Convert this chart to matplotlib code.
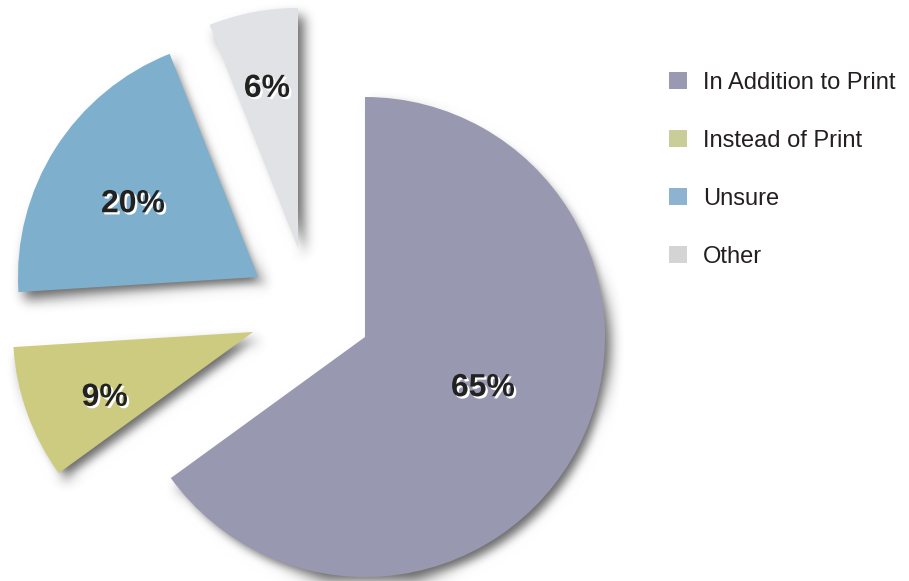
import numpy as np
import matplotlib
matplotlib.use("Agg")
import matplotlib.pyplot as plt
from matplotlib.patches import Wedge, Patch
import matplotlib.patheffects as pe

# Survey answers
categories = ["In Addition to Print", "Instead of Print", "Unsure", "Other"]
shares = [65, 9, 20, 6]

slice_colors = ["#9898B0", "#CCCB80", "#7EB0CE", "#E1E2E5"]
legend_colors = ["#9999B1", "#C9CD98", "#8DB3D0", "#D4D4D4"]
text_color = "#231F20"

W, H = 909, 581
PIE_CENTER = (365, H - 337)
RADIUS = 240
# how far each slice is pulled out from the pie centre (pixels)
slice_shift = [(0, 0), (-112, 5), (-107, 60), (-67, 89)]
# percentage label placement: fraction of radius and angular nudge (deg)
label_frac = [0.53, 0.67, 0.61, 0.69]
label_nudge = [5, 3, 1, 0]


class GaussianBlur:
    """Agg filter that softens whatever it is attached to."""

    def __init__(self, sigma):
        self.sigma = sigma

    def __call__(self, im, dpi):
        s = self.sigma * dpi / 100.0
        pad = int(np.ceil(3 * s))
        img = np.pad(im, ((pad, pad), (pad, pad), (0, 0)))
        x = np.arange(-pad, pad + 1)
        k = np.exp(-0.5 * (x / s) ** 2)
        k /= k.sum()
        img = np.apply_along_axis(lambda v: np.convolve(v, k, mode="same"), 0, img)
        img = np.apply_along_axis(lambda v: np.convolve(v, k, mode="same"), 1, img)
        return img, -pad, -pad


fig = plt.figure(figsize=(W / 100, H / 100), dpi=100)
ax = fig.add_axes([0, 0, 1, 1])

wedges, _ = ax.pie(shares, colors=slice_colors, startangle=90, counterclock=False,
                   radius=RADIUS, center=PIE_CENTER,
                   wedgeprops=dict(linewidth=0), frame=False)

for w, (dx, dy), frac, nudge, share in zip(wedges, slice_shift, label_frac,
                                          label_nudge, shares):
    cx, cy = PIE_CENTER[0] + dx, PIE_CENTER[1] + dy
    w.set_center((cx, cy))
    w.set_zorder(2)

    # soft drop shadow below and to the right of the slice
    sh = Wedge((cx + 6, cy - 8), w.r, w.theta1, w.theta2,
               facecolor="black", edgecolor="none", alpha=0.6, zorder=1)
    sh.set_agg_filter(GaussianBlur(6))
    sh.set_rasterized(True)
    ax.add_patch(sh)

    mid = np.deg2rad((w.theta1 + w.theta2) / 2 + nudge)
    ax.text(cx + frac * w.r * np.cos(mid), cy + frac * w.r * np.sin(mid),
            f"{share}%", ha="center", va="center_baseline",
            fontfamily="Liberation Sans", fontweight="bold", fontsize=23,
            color="#222222", zorder=3,
            path_effects=[pe.withSimplePatchShadow(offset=(1.6, -1.6),
                                                   shadow_rgbFace="white",
                                                   alpha=1.0)])

ax.set_xlim(0, W)
ax.set_ylim(0, H)
ax.set_aspect("auto")
ax.axis("off")

handles = [Patch(facecolor=c, edgecolor="none") for c in legend_colors]
fig.legend(handles, categories, loc="upper left",
           bbox_to_anchor=(669 / W, 1 - 72 / H), frameon=False,
           prop=dict(family="Liberation Sans", size=17),
           handlelength=0.75, handleheight=0.75, handletextpad=0.68,
           labelspacing=1.52, borderpad=0, borderaxespad=0,
           labelcolor=text_color)

fig.savefig("out.png", dpi=100)
